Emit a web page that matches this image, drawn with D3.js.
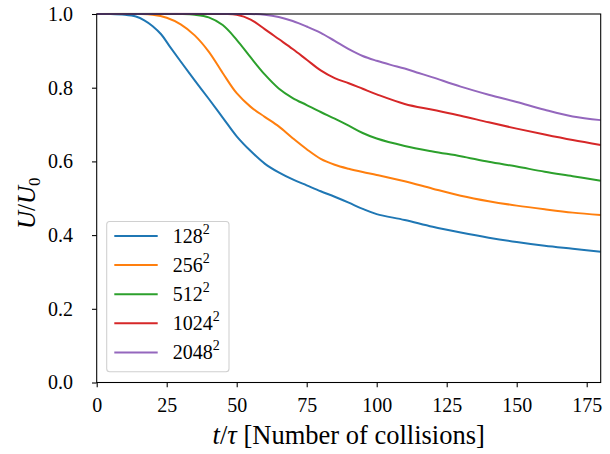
<!DOCTYPE html>
<html>
<head>
<meta charset="utf-8">
<script src="https://cdn.jsdelivr.net/npm/d3@7"></script>
<style>
  html, body { margin: 0; padding: 0; background: #fff; }
  svg { display: block; }
  text { font-family: "Liberation Serif", "DejaVu Serif", serif; fill: #000; }
</style>
</head>
<body>
<svg id="chart" width="610" height="454"></svg>
<script>
// Energy decay U/U0 vs. collision time for several grid resolutions
const seriesNames = ["128", "256", "512", "1024", "2048"];
const seriesColors = ["#1f77b4", "#ff7f0e", "#2ca02c", "#d62728", "#9467bd"];

const t128 = [0, 5, 10, 14, 17, 20, 23, 26, 30, 35, 40, 45, 50, 55, 60, 65, 70, 75, 80, 85, 90, 95, 100, 110, 120, 130, 140, 150, 160, 170, 180];
const u128 = [1.0, 1.0, 0.998, 0.993, 0.983, 0.967, 0.945, 0.913, 0.871, 0.820, 0.770, 0.719, 0.668, 0.628, 0.594, 0.570, 0.551, 0.535, 0.519, 0.504, 0.488, 0.471, 0.457, 0.441, 0.4225, 0.407, 0.393, 0.381, 0.371, 0.363, 0.355];

const t256 = [0, 15, 20, 25, 30, 35, 40, 45, 50, 55, 60, 65, 70, 75, 80, 85, 90, 95, 100, 110, 120, 130, 140, 150, 160, 170, 180];
const u256 = [1.0, 1.0, 0.998, 0.990, 0.972, 0.942, 0.898, 0.840, 0.785, 0.748, 0.721, 0.695, 0.663, 0.633, 0.607, 0.591, 0.580, 0.571, 0.563, 0.546, 0.526, 0.507, 0.492, 0.480, 0.470, 0.461, 0.4545];

const t512 = [0, 30, 35, 40, 45, 50, 55, 60, 65, 70, 75, 80, 85, 90, 95, 100, 110, 120, 130, 140, 150, 160, 170, 180];
const u512 = [1.0, 1.0, 0.998, 0.991, 0.970, 0.930, 0.882, 0.836, 0.798, 0.772, 0.753, 0.734, 0.716, 0.697, 0.677, 0.662, 0.642, 0.627, 0.614, 0.599, 0.586, 0.572, 0.560, 0.5476];

const t1024 = [0, 45, 50, 55, 60, 65, 70, 75, 80, 85, 90, 95, 100, 110, 120, 130, 140, 150, 160, 170, 180];
const u1024 = [1.0, 1.0, 0.998, 0.985, 0.959, 0.932, 0.905, 0.876, 0.847, 0.826, 0.812, 0.797, 0.782, 0.756, 0.740, 0.724, 0.706, 0.689, 0.673, 0.658, 0.6445];

const t2048 = [0, 55, 60, 65, 70, 75, 80, 85, 90, 95, 100, 105, 110, 115, 120, 130, 140, 150, 160, 170, 180];
const u2048 = [1.0, 1.0, 0.998, 0.992, 0.981, 0.966, 0.949, 0.927, 0.905, 0.886, 0.873, 0.862, 0.852, 0.840, 0.828, 0.803, 0.781, 0.761, 0.740, 0.722, 0.712];

const timeSeries = [t128, t256, t512, t1024, t2048];
const energySeries = [u128, u256, u512, u1024, u2048];

const xTicks = [0, 25, 50, 75, 100, 125, 150, 175];
const yTicks = [0.0, 0.2, 0.4, 0.6, 0.8, 1.0];

const svg = d3.select("#chart");
const plot = { left: 96.7, right: 600.7, top: 14, bottom: 382.5 };

const x = d3.scaleLinear().domain([0, 180]).range([plot.left, plot.right]);
const y = d3.scaleLinear().domain([0, 1]).range([plot.bottom, plot.top]);

svg.append("defs").append("clipPath").attr("id", "plot-clip")
  .append("rect")
  .attr("x", plot.left).attr("y", plot.top - 1.2)
  .attr("width", plot.right - plot.left).attr("height", plot.bottom - plot.top + 1.2);

// curves
const line = d3.line()
  .x(d => x(d[0]))
  .y(d => y(Math.min(d[1], 1)))
  .curve(d3.curveCatmullRom.alpha(0.5));

const lines = svg.append("g").attr("clip-path", "url(#plot-clip)");
seriesNames.forEach((name, i) => {
  const pts = timeSeries[i].map((t, j) => [t, energySeries[i][j]]);
  lines.append("path")
    .datum(pts)
    .attr("fill", "none")
    .attr("stroke", seriesColors[i])
    .attr("stroke-width", 2)
    .attr("stroke-linejoin", "round")
    .attr("d", line);
});

// axes
const xAxis = d3.axisBottom(x).tickValues(xTicks).tickSize(4.7).tickPadding(8).tickFormat(d3.format("d"));
const yAxis = d3.axisLeft(y).tickValues(yTicks).tickSize(4.7).tickPadding(19).tickFormat(d3.format(".1f"));

const gx = svg.append("g").attr("transform", `translate(0,${plot.bottom})`).call(xAxis);
const gy = svg.append("g").attr("transform", `translate(${plot.left},0)`).call(yAxis);
[gx, gy].forEach(g => {
  g.select(".domain").remove();
  g.selectAll(".tick line").attr("stroke", "#000").attr("stroke-width", 1.07);
  g.selectAll(".tick text").attr("font-size", 20).attr("font-family", "Liberation Serif, serif");
});
gx.selectAll(".tick text").attr("dy", "0.85em");

// frame
svg.append("rect")
  .attr("x", plot.left).attr("y", plot.top)
  .attr("width", plot.right - plot.left).attr("height", plot.bottom - plot.top)
  .attr("fill", "none").attr("stroke", "#000").attr("stroke-width", 1.07);

// axis labels
const xl = svg.append("text")
  .attr("x", (plot.left + plot.right) / 2).attr("y", 444)
  .attr("text-anchor", "middle").attr("font-size", 26.5);
xl.append("tspan").attr("font-style", "italic").text("t");
xl.append("tspan").text("/");
xl.append("tspan").attr("font-style", "italic").text("τ");
xl.append("tspan").text(" [Number of collisions]");

const yl = svg.append("text")
  .attr("transform", `translate(35,${(plot.top + plot.bottom) / 2 + 5}) rotate(-90)`)
  .attr("text-anchor", "middle").attr("font-size", 25);
yl.append("tspan").attr("font-style", "italic").text("U");
yl.append("tspan").text("/");
yl.append("tspan").attr("font-style", "italic").text("U");
yl.append("tspan").attr("font-size", 17).attr("dy", 5).text("0");

// legend
const leg = svg.append("g");
leg.append("rect")
  .attr("x", 106.7).attr("y", 221.5).attr("width", 122.3).attr("height", 150.3)
  .attr("rx", 3).attr("fill", "#fff").attr("fill-opacity", 0.8)
  .attr("stroke", "#d0d0d0").attr("stroke-width", 1.07);
seriesNames.forEach((name, i) => {
  const cy = 236 + i * 29.1;
  leg.append("line")
    .attr("x1", 114.3).attr("x2", 157.7).attr("y1", cy).attr("y2", cy)
    .attr("stroke", seriesColors[i]).attr("stroke-width", 2);
  const tx = leg.append("text").attr("x", 172.7).attr("y", cy + 7).attr("font-size", 20);
  tx.append("tspan").text(name);
  tx.append("tspan").attr("font-size", 14).attr("dy", -9).text("2");
});
</script>
</body>
</html>
